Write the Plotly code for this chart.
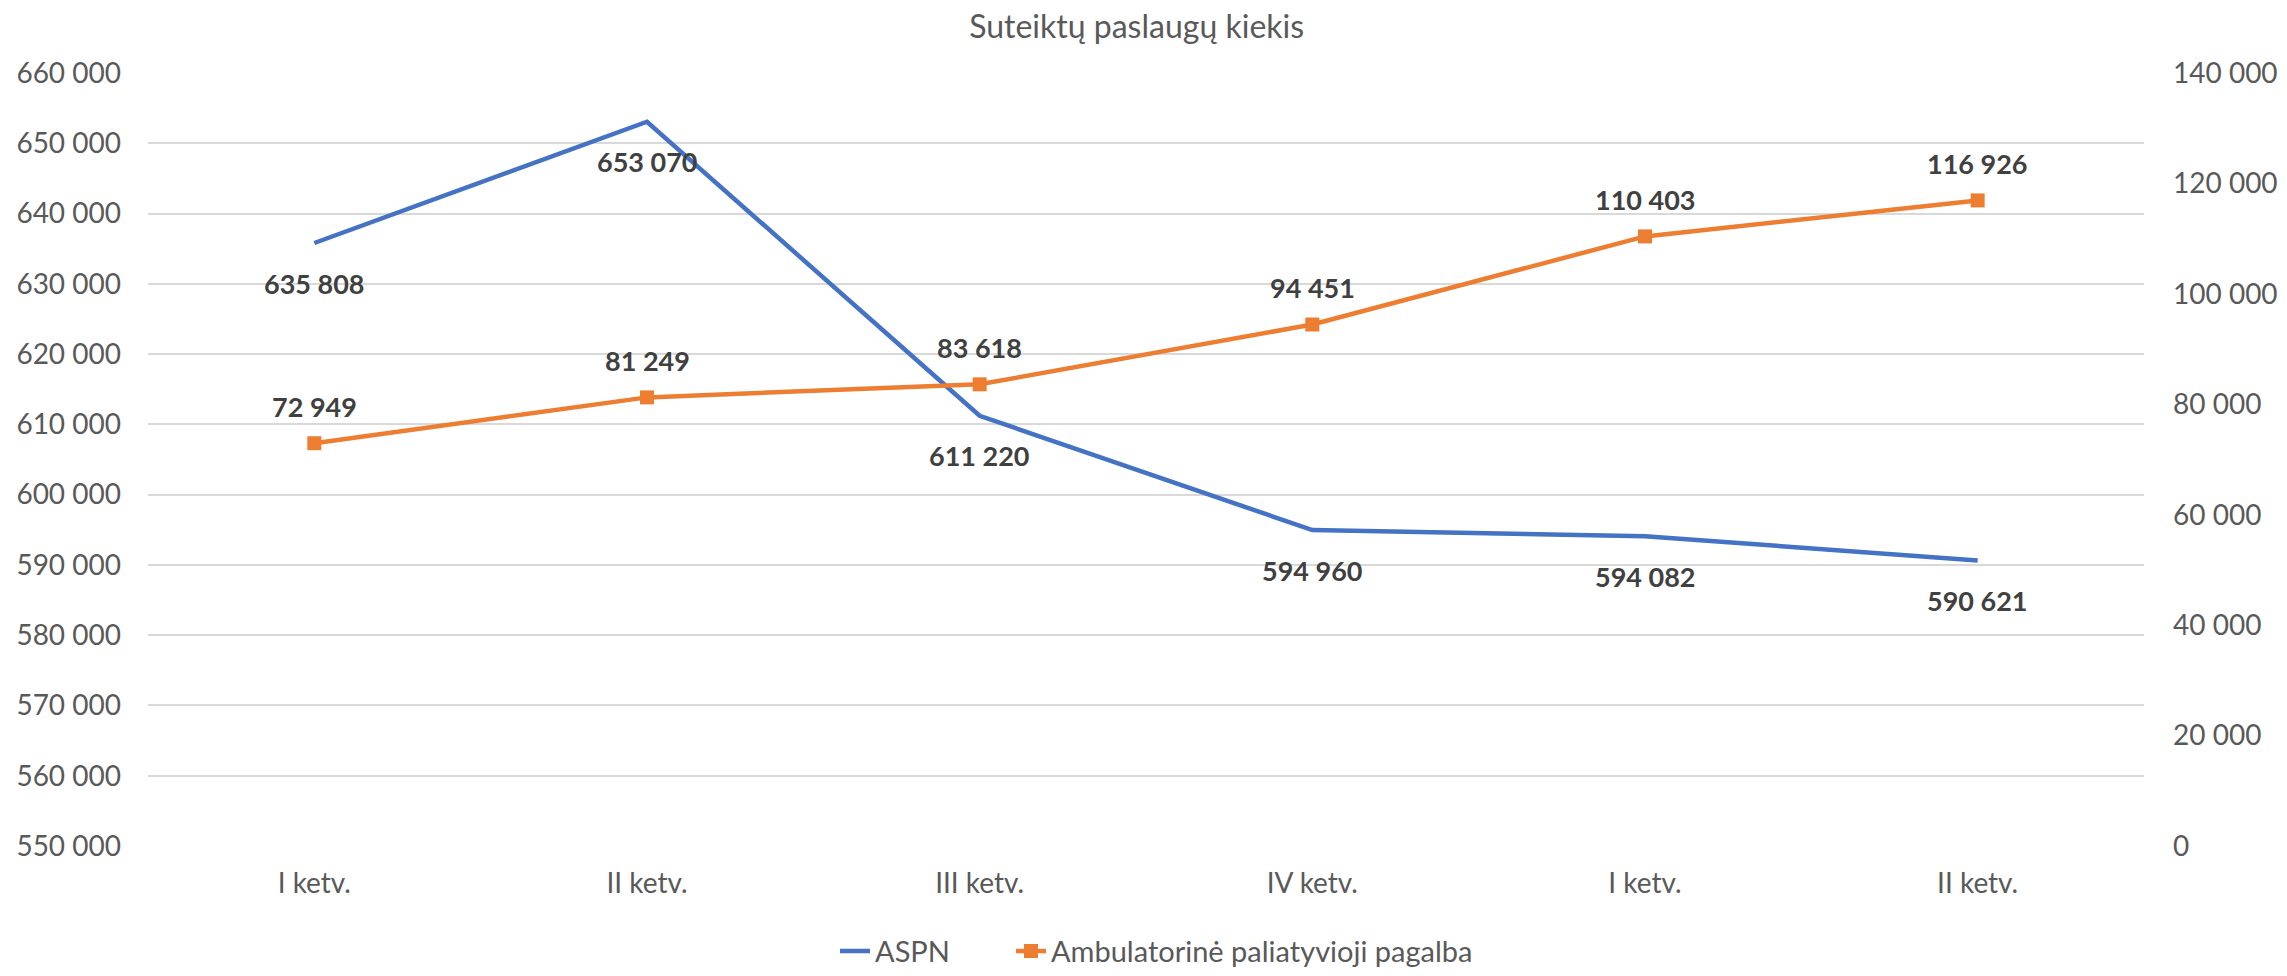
import plotly.graph_objects as go

categories = ["I ketv.", "II ketv.", "III ketv.", "IV ketv.", "I ketv.", "II ketv."]
aspn = [635808, 653070, 611220, 594960, 594082, 590621]
ambulatorine = [72949, 81249, 83618, 94451, 110403, 116926]
series_names = ["ASPN", "Ambulatorinė paliatyvioji pagalba"]
title_text = "Suteiktų paslaugų kiekis"

BLUE = "#4472C4"
ORANGE = "#ED7D31"
FONT = "Lato, Carlito, Calibri, sans-serif"
W, H = 2287, 976

xs = list(range(len(categories)))

def fmt(v):
    return f"{v:,}".replace(",", " ")

fig = go.Figure()
fig.add_trace(go.Scatter(
    x=xs, y=aspn, name=series_names[0], mode="lines",
    line=dict(color=BLUE, width=4.5), yaxis="y", legend="legend",
))
fig.add_trace(go.Scatter(
    x=xs, y=ambulatorine, name=series_names[1], mode="lines+markers",
    line=dict(color=ORANGE, width=4.5),
    marker=dict(symbol="square", size=14, color=ORANGE), yaxis="y2", legend="legend2",
))

annotations = []
for x, v in zip(xs, aspn):
    annotations.append(dict(x=x, y=v, xref="x", yref="y", text=fmt(v),
                            showarrow=False, yshift=-40, yanchor="middle",
                            font=dict(family=FONT, size=27, color="#404040", weight="bold")))
for x, v in zip(xs, ambulatorine):
    annotations.append(dict(x=x, y=v, xref="x", yref="y2", text=fmt(v),
                            showarrow=False, yshift=37, yanchor="middle",
                            font=dict(family=FONT, size=27, color="#404040", weight="bold")))

legend_common = dict(orientation="h", yref="paper", y=-0.136, yanchor="middle",
                     xref="container", xanchor="left",
                     font=dict(family=FONT, size=29, color="#595959"),
                     itemwidth=30, borderwidth=0, bgcolor="rgba(0,0,0,0)")

fig.update_layout(
    width=W, height=H,
    margin=dict(l=148, r=143, t=73, b=130, autoexpand=False),
    paper_bgcolor="white", plot_bgcolor="white",
    separators=", ",
    font=dict(family=FONT, size=28, color="#595959"),
    title=dict(text=title_text, x=0.497, xref="container", xanchor="center",
               y=0.973, yref="container", yanchor="middle",
               font=dict(family=FONT, size=32, color="#595959")),
    xaxis=dict(range=[-0.5, len(categories) - 0.5], tickvals=xs, ticktext=categories,
               showgrid=False, zeroline=False, showline=False, ticks="",
               ticklabelstandoff=18, tickfont=dict(size=28, color="#595959")),
    yaxis=dict(range=[550000, 660000], dtick=10000, tickformat=",d",
               showgrid=True, gridcolor="#D9D9D9", gridwidth=1.5,
               zeroline=False, showline=False, ticks="",
               ticklabelstandoff=26, tickfont=dict(size=28, color="#595959")),
    yaxis2=dict(range=[0, 140000], dtick=20000, tickformat=",d",
                overlaying="y", side="right", showgrid=False,
                zeroline=False, showline=False, ticks="",
                ticklabelstandoff=28, tickfont=dict(size=28, color="#595959")),
    showlegend=True,
    legend=dict(legend_common, x=835 / W),
    legend2=dict(legend_common, x=1011 / W),
    annotations=annotations,
)

fig.write_html("out.html", config={"displayModeBar": False},
               post_script="document.body.style.margin='0';document.body.style.overflow='hidden';")
